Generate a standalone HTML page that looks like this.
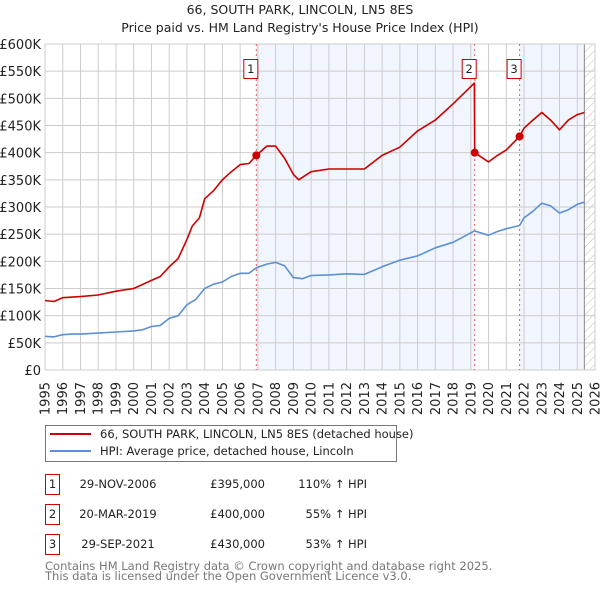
<!DOCTYPE html>
<html><head><meta charset="utf-8"><style>
body{margin:0;background:#fff;font-family:"Liberation Sans","DejaVu Sans",sans-serif;}
svg text{font-family:"DejaVu Sans","Liberation Sans",sans-serif;}
</style></head><body>
<svg id="c" width="600" height="590" xmlns="http://www.w3.org/2000/svg">
<defs><pattern id="hatch" width="6" height="6" patternUnits="userSpaceOnUse" patternTransform="rotate(45)"><line x1="0" y1="0" x2="0" y2="6" stroke="#bbb" stroke-width="1"/></pattern></defs>
<text x="300" y="14" text-anchor="middle" font-size="12.5" fill="#222">66, SOUTH PARK, LINCOLN, LN5 8ES</text>
<text x="300" y="32" text-anchor="middle" font-size="12.5" fill="#222">Price paid vs. HM Land Registry's House Price Index (HPI)</text>
<g id="plot"></g>
<g>
<rect x="45.5" y="425.5" width="351" height="36" fill="#fff" stroke="#777"/>
<line x1="50" y1="434" x2="91" y2="434" stroke="#cc0000" stroke-width="2"/>
<text x="100" y="438" font-size="11.5" fill="#222">66, SOUTH PARK, LINCOLN, LN5 8ES (detached house)</text>
<line x1="50" y1="451" x2="91" y2="451" stroke="#5b8fd6" stroke-width="2"/>
<text x="100" y="455" font-size="11.5" fill="#222">HPI: Average price, detached house, Lincoln</text>
</g>
<g id="table" font-size="11.5" fill="#222"></g>
<text x="45" y="570" font-size="11.5" fill="#777">Contains HM Land Registry data © Crown copyright and database right 2025.</text>
<text x="45" y="580" font-size="11.5" fill="#777">This data is licensed under the Open Government Licence v3.0.</text>
</svg>
<script>
const hpiYears=[1995,1995.5,1996,1996.5,1997,1998,1999,2000,2000.5,2001,2001.5,2002,2002.5,2003,2003.5,2004,2004.5,2005,2005.5,2006,2006.5,2006.9,2007.5,2008,2008.5,2009,2009.5,2010,2011,2012,2013,2014,2015,2016,2017,2018,2019.2,2020,2020.5,2021,2021.75,2022,2022.5,2023,2023.5,2024,2024.5,2025,2025.4];
const hpiValues=[62000,61000,65000,66000,66000,68000,70000,72000,74000,80000,82000,95000,100000,120000,130000,150000,158000,162000,172000,178000,178000,188000,195000,198000,192000,170000,168000,174000,175000,177000,176000,190000,202000,210000,225000,235000,256000,248000,255000,260000,266000,280000,292000,307000,302000,289000,295000,305000,309000];
const priceYears=[1995,1995.5,1996,1997,1998,1999,2000,2001,2001.5,2002,2002.5,2003,2003.3,2003.7,2004,2004.5,2005,2005.5,2006,2006.5,2006.91,2007.5,2008,2008.5,2009,2009.3,2010,2011,2012,2013,2014,2015,2016,2017,2018,2019.2,2019.22,2020,2020.5,2021,2021.75,2022,2022.5,2023,2023.5,2024,2024.5,2025,2025.4];
const priceValues=[128000,126000,133000,135000,138000,145000,150000,165000,172000,190000,205000,240000,265000,280000,315000,330000,350000,365000,378000,380000,395000,412000,412000,390000,360000,350000,365000,370000,370000,370000,395000,410000,440000,460000,490000,528000,400000,383000,395000,405000,430000,445000,460000,474000,460000,442000,460000,470000,474000];
const saleYears=[2006.91,2019.22,2021.75];
const saleValues=[395000,400000,430000];
const saleLabels=["1","2","3"];
const saleDates=["29-NOV-2006","20-MAR-2019","29-SEP-2021"];
const salePrices=["£395,000","£400,000","£430,000"];
const saleHpi=["110% ↑ HPI","55% ↑ HPI","53% ↑ HPI"];
const yTicks=[0,50000,100000,150000,200000,250000,300000,350000,400000,450000,500000,550000,600000];
const yTickLabels=["£0","£50K","£100K","£150K","£200K","£250K","£300K","£350K","£400K","£450K","£500K","£550K","£600K"];
const xTicks=[1995,1996,1997,1998,1999,2000,2001,2002,2003,2004,2005,2006,2007,2008,2009,2010,2011,2012,2013,2014,2015,2016,2017,2018,2019,2020,2021,2022,2023,2024,2025,2026];

const X0=45,X1=595,Y0=370,Y1=44;
const xs=y=>X0+(y-1995)/(2026-1995)*(X1-X0);
const ys=v=>Y0-v/600000*(Y0-Y1);
const NS="http://www.w3.org/2000/svg";
const plot=document.getElementById('plot');
function mk(tag,attrs,parent){const e=document.createElementNS(NS,tag);for(const k in attrs)e.setAttribute(k,attrs[k]);(parent||plot).appendChild(e);return e;}

mk('rect',{x:X0,y:Y1,width:X1-X0,height:Y0-Y1,fill:'#fff'});
let r=mk('rect',{x:xs(saleYears[0]),y:Y1,width:xs(saleYears[1])-xs(saleYears[0]),height:Y0-Y1,fill:'#eef2fc',opacity:0.8});


r=mk('rect',{x:xs(saleYears[2]),y:Y1,width:xs(2025.4)-xs(saleYears[2]),height:Y0-Y1,fill:'#eef2fc',opacity:0.8});


r=mk('rect',{x:xs(2025.4),y:Y1,width:X1-xs(2025.4),height:Y0-Y1,fill:'url(#hatch)'});



yTicks.forEach((v,i)=>{
  mk('line',{x1:X0,x2:X1,y1:ys(v),y2:ys(v),stroke:'#ccc','stroke-width':1});
  const t=mk('text',{x:X0-4,y:ys(v)+5,'text-anchor':'end','font-size':13,fill:'#222'});
  t.textContent=yTickLabels[i];
  
  
});
xTicks.forEach(y=>{
  mk('line',{x1:xs(y),x2:xs(y),y1:Y1,y2:Y0,stroke:'#ccc','stroke-width':1});
  const tx=xs(y)+4.5, ty=382;
  const t=mk('text',{x:tx,y:ty,'text-anchor':'end','font-size':13,fill:'#222',transform:'rotate(-90 '+tx+' '+ty+')'});
  t.textContent=y;
  
  
});
mk('line',{x1:xs(2025.4),x2:xs(2025.4),y1:Y1,y2:Y0,stroke:'#888','stroke-width':1});
mk('rect',{x:X0,y:Y1,width:X1-X0,height:Y0-Y1,fill:'none',stroke:'#ccc'});

saleYears.forEach((y,i)=>{
  const l=mk('line',{x1:xs(y),x2:xs(y),y1:Y1,y2:Y0,stroke:'#e06060','stroke-width':1,'stroke-dasharray':'2,3'});
  
  
});

function path(xa,va,color,name){
  const d=xa.map((y,i)=>(i?'L':'M')+xs(y).toFixed(1)+','+ys(va[i]).toFixed(1)).join('');
  const p=mk('path',{d:d,fill:'none',stroke:color,'stroke-width':1.6,'stroke-linejoin':'round'});
  
  
}
path(hpiYears,hpiValues,'#5b8fd6','hpi-line');
path(priceYears,priceValues,'#cc0000','price-paid-line');

saleYears.forEach((y,i)=>{
  const c=mk('circle',{cx:xs(y),cy:ys(saleValues[i]),r:4,fill:'#cc0000'});
  
  
  const bx=xs(y)-13;
  const b=mk('rect',{x:bx+0.5,y:59.5,width:14,height:19,fill:'#fff',stroke:'#cc0000'});
  
  
  const t=mk('text',{x:bx+7.5,y:73,'text-anchor':'middle','font-size':11.5,fill:'#222'});
  t.textContent=saleLabels[i];
  
  
});

const tbl=document.getElementById('table');
saleLabels.forEach((s,i)=>{
  const y=483+i*30;
  const b=mk('rect',{x:45.5,y:y-8.5,width:14,height:20,fill:'#fff',stroke:'#cc0000'},tbl);
  
  
  const cells=[[52.5,s,'middle'],[118,saleDates[i],'middle'],[265,salePrices[i],'end'],[367,saleHpi[i],'end']];
  cells.forEach(c=>{
    const t=mk('text',{x:c[0],y:y+5,'text-anchor':c[2]},tbl);
    t.textContent=c[1];
    
    
  });
});
</script>
</body></html>
